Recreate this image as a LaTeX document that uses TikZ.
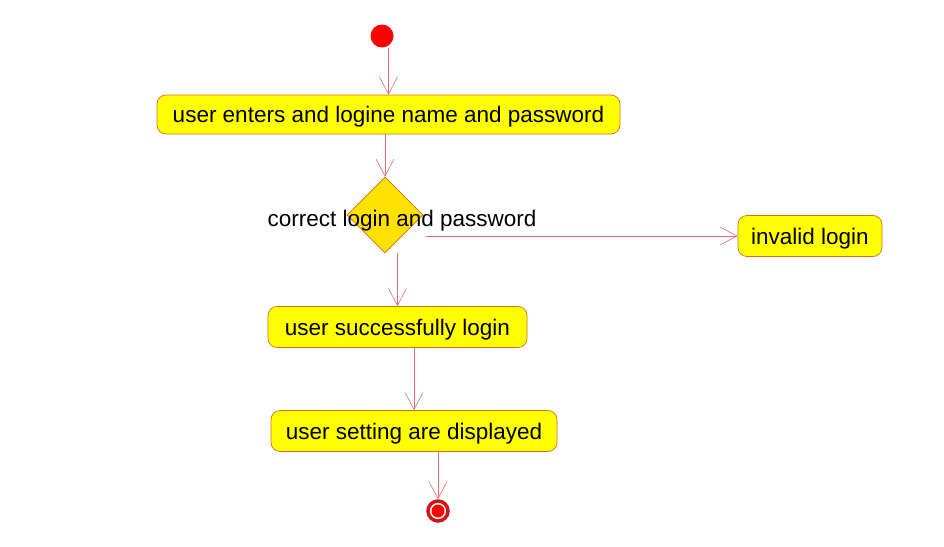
\documentclass[tikz,border=0pt]{standalone}
\usepackage{fontspec}
\setmainfont{Liberation Sans}
\usetikzlibrary{shapes.geometric}
\usetikzlibrary{arrows.meta}

\definecolor{actfill}{RGB}{255,255,0}
\definecolor{actline}{RGB}{215,110,30}
\definecolor{decfill}{RGB}{255,225,0}
\definecolor{flowline}{RGB}{225,110,110}
\definecolor{stopring}{RGB}{210,20,20}

\begin{document}
\begin{tikzpicture}[x=1pt,y=-1pt,>={Straight Barb[length=17pt,width=18pt]},
                    flow/.style={->,draw=flowline,line width=0.6pt},
                    act node/.style={rectangle,rounded corners=9pt,draw=actline,fill=actfill,
                                     line width=0.7pt,minimum height=41pt,inner sep=0pt,text depth=0pt,
                                     font=\fontsize{22.5}{27}\selectfont},
                    dec node/.style={diamond,draw=actline,fill=decfill,line width=0.7pt,
                                     minimum width=76pt,minimum height=76pt,inner sep=0pt,aspect=1}]

		\useasboundingbox (0,0) rectangle (944,546);

		\node[circle,fill=red,minimum size=23pt,inner sep=0pt] (start) at (382,36) {};
		\node[act node,minimum width=463pt,minimum height=39pt] (enter) at (388.5,114.5) {user enters and logine name and password};
		\node[dec node] (check) at (385,215) {};
		\node[font=\fontsize{22.5}{27}\selectfont,text depth=0pt] (cond) at (402,218) {correct login and password};
		\node[act node,minimum width=144pt] (invalid) at (810,236) {invalid login};
		\node[act node,minimum width=259pt] (success) at (397.5,327) {user successfully login};
		\node[act node,minimum width=286pt] (setting) at (414,431) {user setting are displayed};
		\node[circle,draw=stopring,line width=3.5pt,fill=white,minimum size=20pt,inner sep=0pt] (stop) at (438,511) {};
		\node[circle,fill=red,minimum size=13pt,inner sep=0pt] (stopin) at (stop) {};

		\draw[flow] (start.south -| enter.north) -- (enter.north);
		\draw[flow] (enter.south -| check.north) -- (check.north);
		\draw[flow] ([xshift=3pt]check.east |- invalid.west) -- (invalid.west);
		\draw[flow] (check.south -| success.north) -- (success.north);
		\draw[flow] (success.south -| setting.north) -- (setting.north);
		\draw[flow] (setting.south -| stop.north) -- (stop.north);
	\end{tikzpicture}
\end{document}
